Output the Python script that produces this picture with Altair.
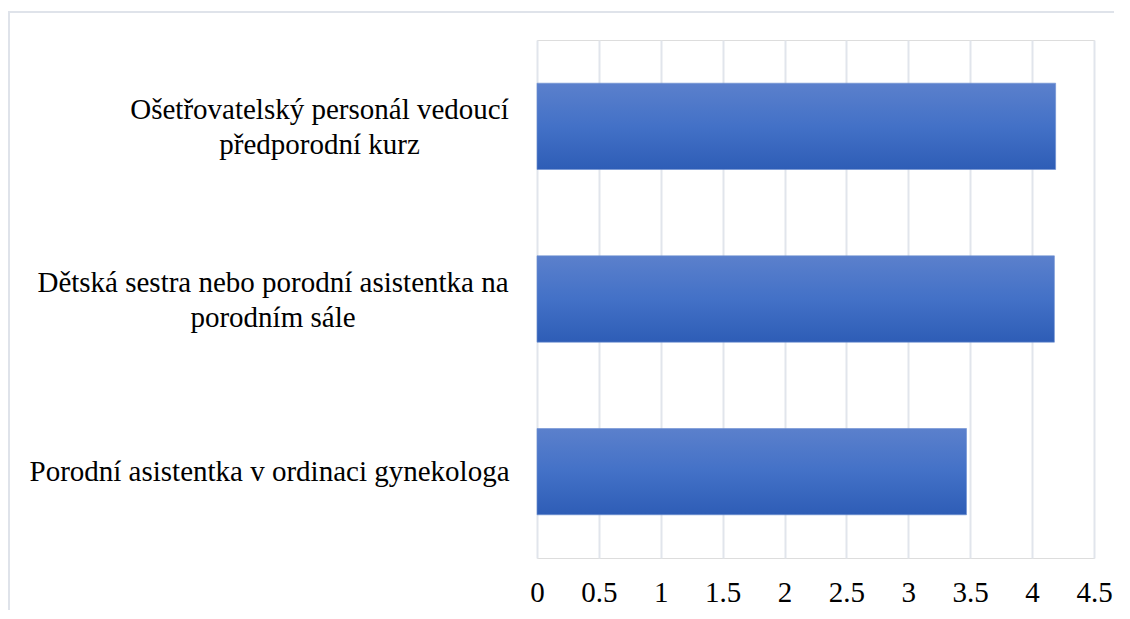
import altair as alt
import pandas as pd

categories = [
    "Ošetřovatelský personál vedoucí\npředporodní kurz",
    "Dětská sestra nebo porodní asistentka na\nporodním sále",
    "Porodní asistentka v ordinaci gynekologa",
]
values = [4.19, 4.18, 3.47]
x_ticks = [0, 0.5, 1, 1.5, 2, 2.5, 3, 3.5, 4, 4.5]

df = pd.DataFrame({"category": categories, "value": values})

FONT = "Liberation Serif"

gradient = alt.Gradient(
    gradient="linear",
    x1=0, x2=0, y1=0, y2=1,
    stops=[
        alt.GradientStop(color="#5b80cc", offset=0),
        alt.GradientStop(color="#4371c7", offset=0.5),
        alt.GradientStop(color="#2e5db6", offset=1),
    ],
)

bars = alt.Chart(df).mark_bar(color=gradient, stroke="#6d8fd2", strokeWidth=0.6).encode(
    x=alt.X(
        "value:Q",
        scale=alt.Scale(domain=[0, 4.5], nice=False),
        axis=alt.Axis(
            values=x_ticks,
            format=".1~f",
            title=None,
            domain=False,
            ticks=False,
            grid=True,
            gridColor="#e1e5ec",
            gridWidth=2,
            labelFont=FONT,
            labelFontSize=29,
            labelColor="#000000",
            labelPadding=20,
            labelFlush=False,
            labelOverlap=False,
        ),
    ),
    y=alt.Y(
        "category:N",
        sort=categories,
        scale=alt.Scale(paddingInner=0.5, paddingOuter=0.25),
        axis=alt.Axis(
            title=None,
            domain=False,
            ticks=False,
            grid=False,
            labelFont=FONT,
            labelFontSize=29,
            labelColor="#000000",
            labelAlign="center",
            labelBaseline="middle",
            labelLineHeight=35,
            labelLimit=0,
            labelExpr="split(datum.label, '\\n')",
            labelOffset={
                "condition": {"test": "indexof(datum.value, '\\n') >= 0", "value": -16},
                "value": 0,
            },
            labelPadding={
                "condition": [
                    {"test": "indexof(datum.value, 'Ošetřovatelský') >= 0", "value": 218},
                    {"test": "indexof(datum.value, 'Dětská') >= 0", "value": 264.5},
                ],
                "value": 268,
            },
        ),
    ),
)

frame_df = pd.DataFrame({"f": [0]})
frame_left = alt.Chart(frame_df).mark_rule(color="#dfe3ea", strokeWidth=2).encode(
    x=alt.value(-528), y=alt.value(-28), y2=alt.value(600)
)
frame_top = alt.Chart(frame_df).mark_rule(color="#dfe3ea", strokeWidth=2).encode(
    x=alt.value(-529), x2=alt.value(700), y=alt.value(-28)
)

chart = (
    alt.layer(frame_left, frame_top, bars)
    .properties(
        width=557,
        height=518,
        autosize=alt.AutoSizeParams(type="none"),
        padding={"left": 529, "top": 32, "right": 20, "bottom": 52},
    )
    .configure_view(stroke=None)
    .configure(background="#ffffff")
)

chart.save("out.html", embed_options={"renderer": "svg", "actions": False})
